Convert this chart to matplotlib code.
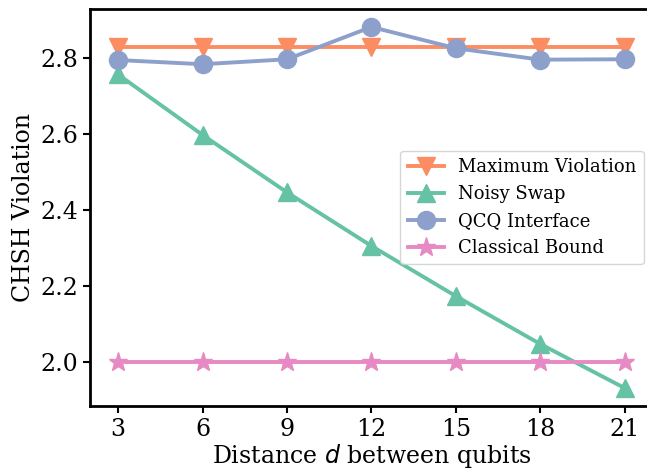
import matplotlib
matplotlib.use('Agg')
import matplotlib.pyplot as plt
import numpy as np

distances = [3, 6, 9, 12, 15, 18, 21]
max_violation = [2.828] * 7
noisy_swap = [2.757, 2.598, 2.447, 2.306, 2.174, 2.048, 1.932]
qcq_interface = [2.795, 2.784, 2.797, 2.882, 2.826, 2.796, 2.797]
classical_bound = [2.0] * 7

labels = ['Maximum Violation', 'Noisy Swap', 'QCQ Interface', 'Classical Bound']
markers = ['v', '^', 'o', '*']
sizes = [13, 13, 13, 14]
colors = ['#fc8d62', '#66c2a5', '#8da0cb', '#e78ac3']

plt.rcParams['font.family'] = 'DejaVu Serif'

fig = plt.figure(figsize=(6.47, 4.69), dpi=100)
ax = fig.add_axes([0.139, 0.134, 0.87, 0.847])

series = [max_violation, noisy_swap, qcq_interface, classical_bound]
for vals, lab, m, ms, c in zip(series, labels, markers, sizes, colors):
    ax.plot(distances, vals, marker=m, color=c, label=lab,
            linewidth=2.8, markersize=ms)

ax.set_xlim(2, 22)
ax.set_xticks(distances)
ax.tick_params(axis='both', labelsize=17, width=1.5, length=5)
for s in ax.spines.values():
    s.set_linewidth(2)
ax.set_xlabel('Distance $d$ between qubits', fontsize=17, labelpad=1)
ax.set_ylabel('CHSH Violation', fontsize=17)
ax.legend(loc='center right', fontsize=13)

fig.savefig('out.png', dpi=100)
